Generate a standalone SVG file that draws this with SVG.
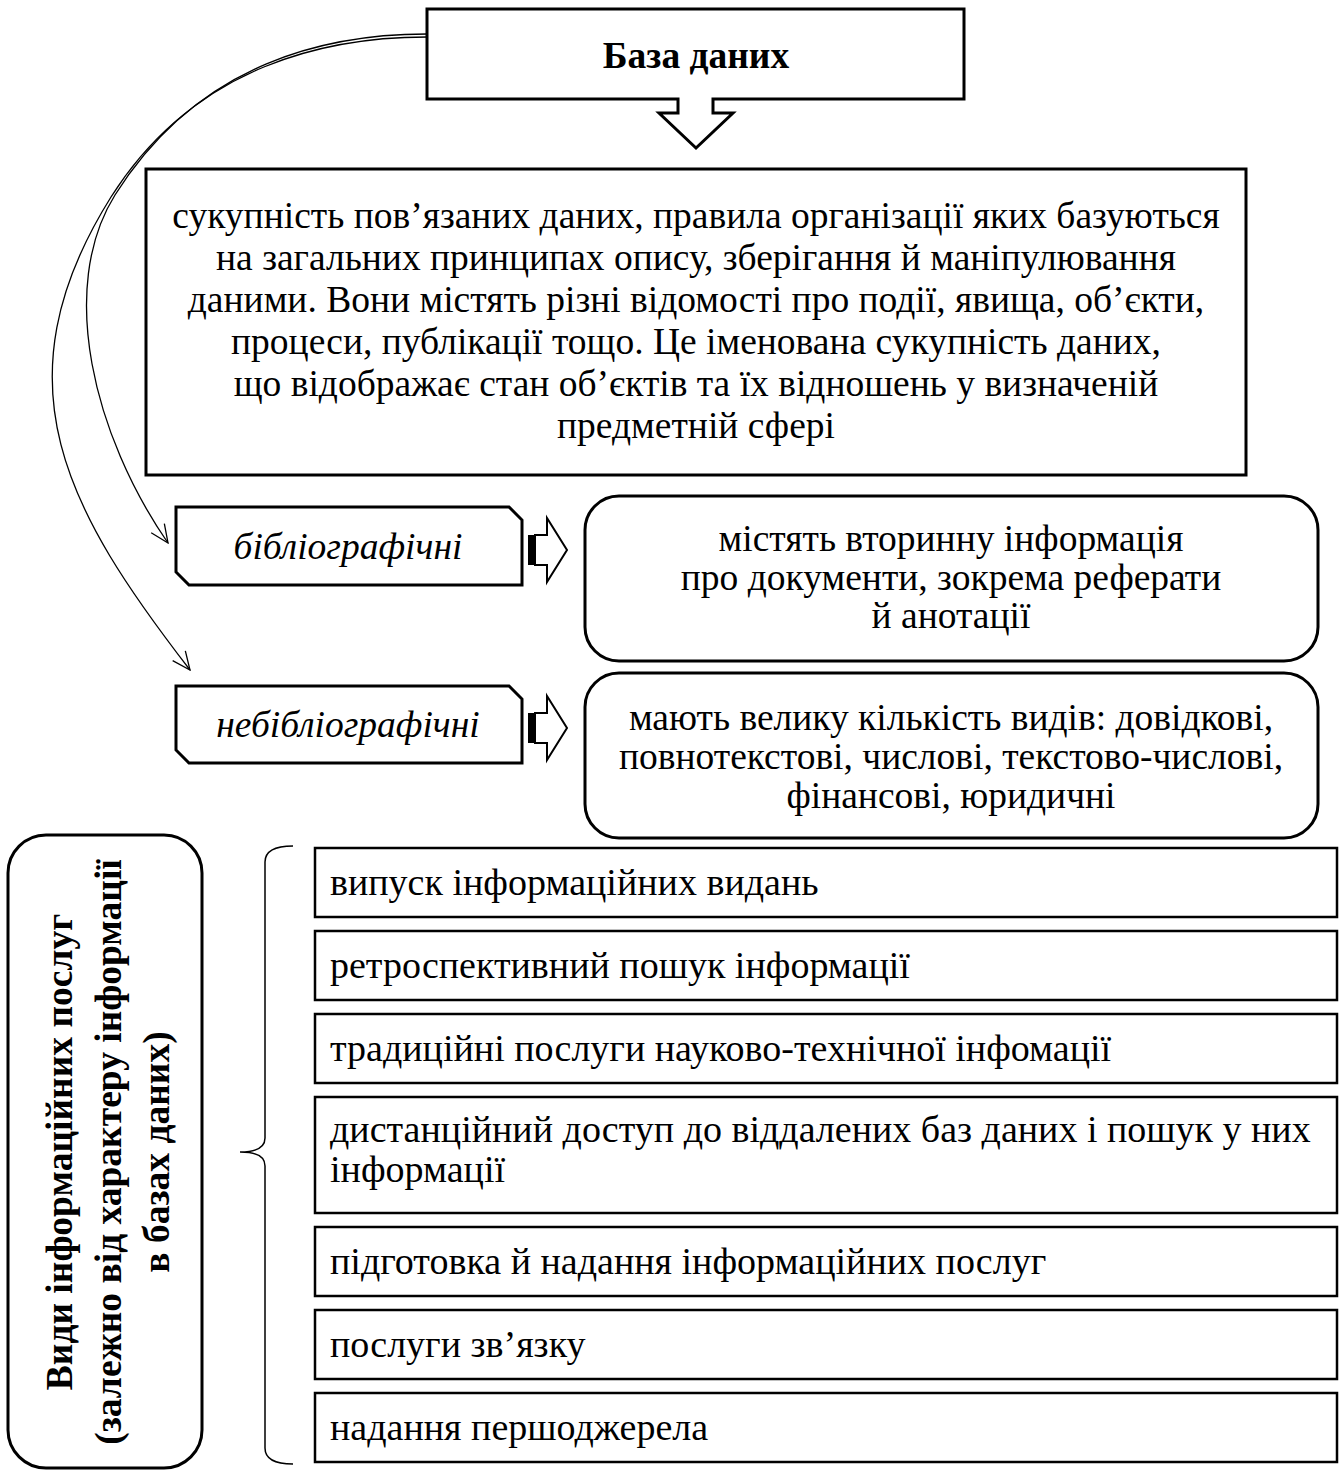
<svg xmlns="http://www.w3.org/2000/svg" width="1342" height="1475" viewBox="0 0 1342 1475">
<style>
  text { font-family: "Liberation Serif", "Times New Roman", serif; fill: #000; }
  .t { font-size: 37.5px; }
  .s { font-size: 38px; }
  .c { text-anchor: middle; }
  .b { font-weight: bold; }
  .i { font-style: italic; }
  .box { fill: #fff; stroke: #000; stroke-width: 3; }
  .box2 { fill: #fff; stroke: #000; stroke-width: 2.5; }
  .curve { fill: none; stroke: #000; stroke-width: 1.3; }
  .thin { fill: none; stroke: #000; stroke-width: 1.5; }
</style>
<defs>
  <marker id="open" viewBox="0 0 20 20" refX="19" refY="10" markerWidth="20" markerHeight="20" markerUnits="userSpaceOnUse" orient="auto">
    <path d="M1,2 L19,10 L1,18" fill="none" stroke="#000" stroke-width="1.3"/>
  </marker>
</defs>

<g id="connectors">
  <path class="curve" d="M427,34 C330,34 200,60 115,195 C57,288 94,436 168,543" marker-end="url(#open)"/>
  <path class="curve" d="M427,37 C330,37 196,63 111,197 C-6,384 68,512 190,670" marker-end="url(#open)"/>
  <path class="thin" d="M293,846 Q265,846 265,862 L265,1138 Q265,1152 240,1152 Q265,1152 265,1166 L265,1448 Q265,1464 293,1464"/>
</g>

<g id="node-baza">
  <path class="box" d="M427,9 H964 V99 H713 V113 H733 L696,148 L659,113 H678 V99 H427 Z"/>
  <text class="t c b" x="696" y="68">База даних</text>
</g>

<g id="node-definition">
  <rect class="box" x="146" y="169" width="1100" height="306"/>
  <text class="t c" x="696" y="228">сукупність пов’язаних даних, правила організації яких базуються</text>
  <text class="t c" x="696" y="270">на загальних принципах опису, зберігання й маніпулювання</text>
  <text class="t c" x="696" y="312">даними. Вони містять різні відомості про події, явища, об’єкти,</text>
  <text class="t c" x="696" y="354">процеси, публікації тощо. Це іменована сукупність даних,</text>
  <text class="t c" x="696" y="396">що відображає стан об’єктів та їх відношень у визначеній</text>
  <text class="t c" x="696" y="438">предметній сфері</text>
</g>

<g id="node-bibl">
  <polygon class="box" points="176,507 509,507 522,520 522,585 189,585 176,572"/>
  <text class="t c i" x="348" y="559">бібліографічні</text>
</g>
<g id="arrow-bibl">
  <rect x="528" y="535" width="7" height="30" fill="#000"/>
  <polygon points="535,535 547,535 547,518 567,550 547,582 547,565 535,565" fill="#fff" stroke="#000" stroke-width="2"/>
</g>
<g id="node-bibl-desc">
  <rect class="box" x="585" y="496" width="733" height="165" rx="34"/>
  <text class="t c" x="951" y="551">містять вторинну інформація</text>
  <text class="t c" x="951" y="590">про документи, зокрема реферати</text>
  <text class="t c" x="951" y="628">й анотації</text>
</g>

<g id="node-nebibl">
  <polygon class="box" points="176,686 509,686 522,699 522,763 189,763 176,750"/>
  <text class="t c i" x="348" y="737">небібліографічні</text>
</g>
<g id="arrow-nebibl">
  <rect x="528" y="713" width="7" height="30" fill="#000"/>
  <polygon points="535,713 547,713 547,696 567,728 547,760 547,743 535,743" fill="#fff" stroke="#000" stroke-width="2"/>
</g>
<g id="node-nebibl-desc">
  <rect class="box" x="585" y="673" width="733" height="165" rx="34"/>
  <text class="t c" x="951" y="730">мають велику кількість видів: довідкові,</text>
  <text class="t c" x="951" y="769">повнотекстові, числові, текстово-числові,</text>
  <text class="t c" x="951" y="808">фінансові, юридичні</text>
</g>

<g id="node-vydy">
  <rect class="box" x="8" y="835" width="194" height="633" rx="38"/>
  <text class="t c b" transform="translate(72,1152) rotate(-90)" x="0" y="0">Види інформаційних послуг</text>
  <text class="t c b" transform="translate(121,1152) rotate(-90)" x="0" y="0">(залежно від характеру інформації</text>
  <text class="t c b" transform="translate(169,1152) rotate(-90)" x="0" y="0">в базах даних)</text>
</g>

<g id="node-s1">
  <rect class="box2" x="315" y="848" width="1022" height="69"/>
  <text class="s" x="330" y="895">випуск інформаційних видань</text>
</g>
<g id="node-s2">
  <rect class="box2" x="315" y="931" width="1022" height="69"/>
  <text class="s" x="330" y="978">ретроспективний пошук інформації</text>
</g>
<g id="node-s3">
  <rect class="box2" x="315" y="1014" width="1022" height="69"/>
  <text class="s" x="330" y="1061">традиційні послуги науково-технічної інфомації</text>
</g>
<g id="node-s4">
  <rect class="box2" x="315" y="1097" width="1022" height="116"/>
  <text class="s" x="330" y="1142">дистанційний доступ до віддалених баз даних і пошук у них</text>
  <text class="s" x="330" y="1182">інформації</text>
</g>
<g id="node-s5">
  <rect class="box2" x="315" y="1227" width="1022" height="69"/>
  <text class="s" x="330" y="1274">підготовка й надання інформаційних послуг</text>
</g>
<g id="node-s6">
  <rect class="box2" x="315" y="1310" width="1022" height="69"/>
  <text class="s" x="330" y="1357">послуги зв’язку</text>
</g>
<g id="node-s7">
  <rect class="box2" x="315" y="1393" width="1022" height="69"/>
  <text class="s" x="330" y="1440">надання першоджерела</text>
</g>
</svg>
